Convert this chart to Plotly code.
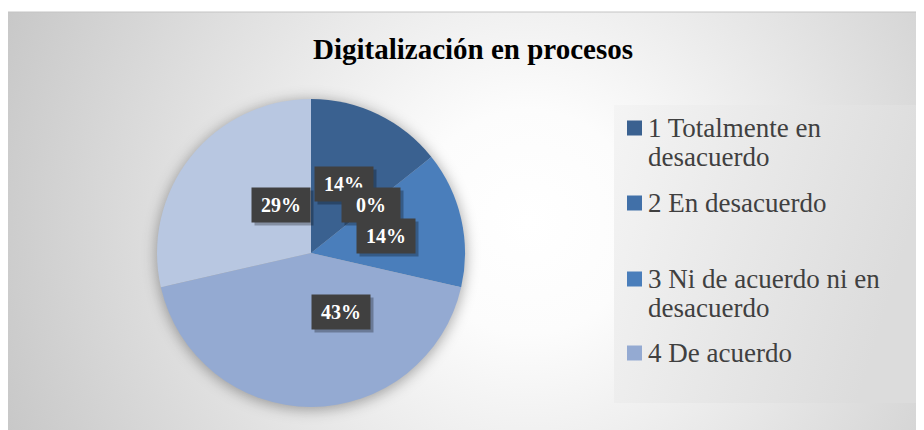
import base64
import math
import plotly.graph_objects as go

# data
categorias = ["1 Totalmente en desacuerdo", "2 En desacuerdo",
              "3 Ni de acuerdo ni en desacuerdo", "4 De acuerdo",
              "5 Totalmente de acuerdo"]
leyenda = [["1 Totalmente en", "desacuerdo"], ["2 En desacuerdo"],
           ["3 Ni de acuerdo ni en", "desacuerdo"], ["4 De acuerdo"]]
respuestas = [1, 0, 1, 3, 2]
colores = ["#3A6190", "#4170A8", "#4A7EBB", "#94AAD2", "#B8C7E1"]

W, H = 924, 430
OFF = 8  # page body margin, reference pixels -> figure pixels
SERIF = "Liberation Serif, serif"


def PX(x):
    return (x - OFF) / W


def PY(y):
    return 1 - (y - OFF) / H


def svg_uri(svg):
    return "data:image/svg+xml;base64," + base64.b64encode(svg.encode()).decode()


# pie placed with centre (311, 253) and radius 154 in reference pixels
cx_r, cy_r, R = 311, 253, 154
dom_x = [PX(cx_r - R), PX(cx_r + R)]
dom_y = [PY(cy_r + R), PY(cy_r - R)]

fig = go.Figure(go.Pie(
    labels=categorias, values=respuestas, sort=False, direction="clockwise",
    marker=dict(colors=colores, line=dict(width=0)),
    textinfo="none", hoverinfo="label+percent", showlegend=False,
    domain=dict(x=dom_x, y=dom_y),
))

# background of chart area: reference x 8..924, y 12..430
bw, bh = 916, 418
bg = ('<svg xmlns="http://www.w3.org/2000/svg" width="%d" height="%d">'
      '<defs><radialGradient id="g" gradientUnits="userSpaceOnUse" cx="520" cy="210" r="560">'
      '<stop offset="0" stop-color="#ffffff"/><stop offset="0.2" stop-color="#fcfcfc"/>'
      '<stop offset="1" stop-color="#c8c8c8"/></radialGradient>'
      '<linearGradient id="l" x1="0" x2="1" y1="0" y2="0.3">'
      '<stop offset="0" stop-color="#f4f4f4"/><stop offset="1" stop-color="#dcdcdc"/></linearGradient></defs>'
      '<rect width="%d" height="%d" fill="url(#g)"/>'
      '<rect x="606" y="93" width="308" height="298" fill="url(#l)"/></svg>') % (bw, bh, bw, bh)

pad = 40
sh = ('<svg xmlns="http://www.w3.org/2000/svg" width="%d" height="%d">'
      '<defs><filter id="f" x="-30%%" y="-30%%" width="160%%" height="160%%">'
      '<feGaussianBlur stdDeviation="7"/></filter></defs>'
      '<circle cx="%f" cy="%f" r="%f" fill="rgba(0,0,0,0.33)" filter="url(#f)"/></svg>'
      % (2 * R + 2 * pad, 2 * R + 2 * pad, R + pad, R + pad + 2, R + 1))

images = [
    dict(source=svg_uri(bg), xref="paper", yref="paper", x=PX(8), y=PY(12),
         sizex=bw / W, sizey=bh / H, xanchor="left", yanchor="top",
         sizing="stretch", layer="below"),
    dict(source=svg_uri(sh), xref="paper", yref="paper", x=PX(cx_r - R - pad),
         y=PY(cy_r - R - pad), sizex=(2 * R + 2 * pad) / W,
         sizey=(2 * R + 2 * pad) / H, xanchor="left", yanchor="top",
         sizing="stretch", layer="below"),
]

# data labels at half radius along each slice's mid angle
total = sum(respuestas)
annotations = []
acc = 0
for v in respuestas:
    mid = (acc + v / 2) / total * 2 * math.pi
    acc += v
    lx = cx_r + 0.5 * R * math.sin(mid)
    ly = cy_r - 0.5 * R * math.cos(mid)
    pct = "<b>%d%%</b>" % round(100 * v / total)
    base = dict(x=PX(lx), y=PY(ly), xref="paper", yref="paper", showarrow=False,
                text=pct, width=46, height=22, borderpad=6)
    annotations.append(dict(base, bgcolor="rgba(0,0,0,0.28)", xshift=3, yshift=-3,
                            font=dict(family=SERIF, size=20, color="rgba(0,0,0,0)")))
    annotations.append(dict(base, bgcolor="#404040",
                            font=dict(family=SERIF, size=20, color="white")))

# legend drawn by hand (the 5th item is cut off in the original)
leg_y = [128, 203, 279, 353]
line_gap = 29
shapes = [dict(type="line", xref="paper", yref="paper", x0=PX(8), x1=1,
               y0=PY(12), y1=PY(12), line=dict(color="#c4c4c4", width=1))]
for i, lines in enumerate(leyenda):
    y = leg_y[i]
    shapes.append(dict(type="rect", xref="paper", yref="paper",
                       x0=PX(627), x1=PX(642), y0=PY(y - 7.5), y1=PY(y + 7.5),
                       fillcolor=colores[i], line=dict(width=0)))
    for j, txt in enumerate(lines):
        annotations.append(dict(x=PX(646), y=PY(y + j * line_gap), xref="paper",
                                yref="paper", xanchor="left", yanchor="middle",
                                showarrow=False, text=txt,
                                font=dict(family=SERIF, size=27, color="#404040")))

fig.update_layout(
    width=W, height=H,
    margin=dict(l=0, r=0, t=0, b=0),
    paper_bgcolor="white",
    title=dict(text="<b>Digitalización en procesos</b>", x=PX(473), xanchor="center",
               y=PY(49), yanchor="middle",
               font=dict(family=SERIF, size=29, color="black")),
    images=images,
    shapes=shapes,
    annotations=annotations,
)

fig.write_html("out.html")
